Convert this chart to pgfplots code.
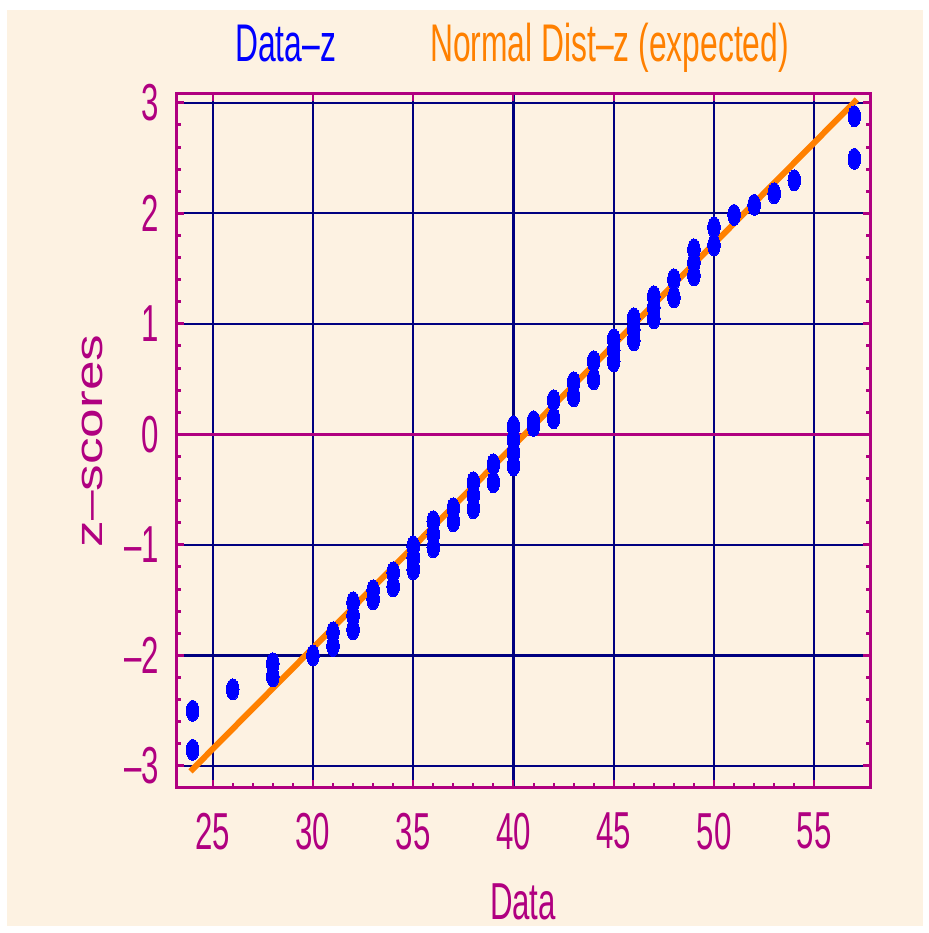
\documentclass[border=0pt]{standalone}
\usepackage{pgfplots}
\pgfplotsset{compat=1.18}
\usepackage{fontspec}
\setmainfont{Liberation Sans}[FakeStretch=0.6]
\newfontfamily\ylabfont{Liberation Sans}[FakeStretch=1.4]
\definecolor{bgcream}{RGB}{253,242,226}
\definecolor{mag}{RGB}{176,0,128}
\definecolor{navy}{RGB}{0,0,128}
\definecolor{orng}{RGB}{255,128,0}
\definecolor{pblue}{RGB}{0,0,255}
\begin{document}
\begin{tikzpicture}[x=1pt,y=1pt]
\fill[white] (0,0) rectangle (928,933);
\fill[bgcream] (7,7) rectangle (923,923);
\useasboundingbox (0,0) rectangle (928,933);
\begin{axis}[
  at={(176pt,145pt)}, anchor=south west,
  scale only axis, width=694pt, height=694pt,
  xmin=23.17, xmax=57.78, ymin=-3.2, ymax=3.08,
  xtick={25,30,...,55},
  xticklabels={25,30,35,40,45,50,55},
  ytick={-3,-2,...,3},
  yticklabels={\textendash3,\textendash2,\textendash1,0,1,2,3},
  minor tick num=4,
  tick align=inside,
  xtick pos=bottom, ytick pos=both,
  major tick length=7.5pt, minor tick length=4.5pt,
  xtick style={mag, line width=2pt},
  ytick style={mag, line width=3pt},
  grid=major,
  major grid style={navy, line width=2.3pt},
  extra y ticks={0},
  extra y tick labels={},
  extra y tick style={grid=major, major grid style={mag, line width=2.3pt}},
  extra x ticks={25,30,...,55},
  extra x tick labels={},
  extra x tick style={grid=none, xtick pos=top},
  axis line style={mag, line width=3pt},
  /pgf/number format/assume math mode=true,
  tick label style={font=\fontsize{52}{60}\selectfont, text=mag},
  xticklabel style={anchor=north, inner sep=0pt, yshift=-25pt},
  yticklabel style={anchor=east, inner sep=0pt, xshift=-17pt},
  xlabel={Data},
  xlabel style={at={(axis description cs:0.5,-0.1888)}, anchor=base, inner sep=0pt, font=\fontsize{52}{60}\selectfont, text=mag},
  ylabel={z\textendash scores},
  ylabel style={at={(axis description cs:-0.1052,0.5)}, anchor=base, inner sep=0pt, font=\ylabfont\fontsize{38}{44}\selectfont, text=mag},
]
\addplot[pblue, only marks, mark=*, mark size=10.5pt, mark options={draw=pblue, fill=pblue, line width=0pt, xscale=0.6}] coordinates {
(24,-2.502) (24,-2.855)
(26,-2.308)
(28,-2.072) (28,-2.190)
(30,-2.0)
(31,-1.792) (31,-1.914)
(32,-1.520) (32,-1.643) (32,-1.765)
(33,-1.412) (33,-1.493)
(34,-1.249) (34,-1.376)
(35,-1.014) (35,-1.118) (35,-1.222)
(36,-0.787) (36,-0.905) (36,-1.023)
(37,-0.670) (37,-0.787)
(38,-0.434) (38,-0.552) (38,-0.670)
(39,-0.271) (39,-0.434)
(40,0.072) (40,-0.045) (40,-0.163) (40,-0.281)
(41,0.118) (41,0.077)
(42,0.308) (42,0.145)
(43,0.471) (43,0.344)
(44,0.661) (44,0.498)
(45,0.860) (45,0.760) (45,0.661)
(46,1.050) (46,0.950) (46,0.851)
(47,1.249) (47,1.149) (47,1.050)
(48,1.403) (48,1.240)
(49,1.674) (49,1.557) (49,1.439)
(50,1.873) (50,1.710)
(51,1.986)
(52,2.077)
(53,2.181)
(54,2.299)
(57,2.878) (57,2.493)
};
\addplot[orng, line width=6pt, line cap=rect, no markers] coordinates {(24,-3.03) (57.02,3.01)};
\end{axis}
\node[anchor=base west, inner sep=0pt, text=pblue, font=\fontsize{53}{60}\selectfont] at (235,871) {Data\textendash z};
\node[anchor=base west, inner sep=0pt, text=orng, font=\fontsize{53}{60}\selectfont] at (430,871) {Normal Dist\textendash z (expected)};
\end{tikzpicture}
\end{document}
